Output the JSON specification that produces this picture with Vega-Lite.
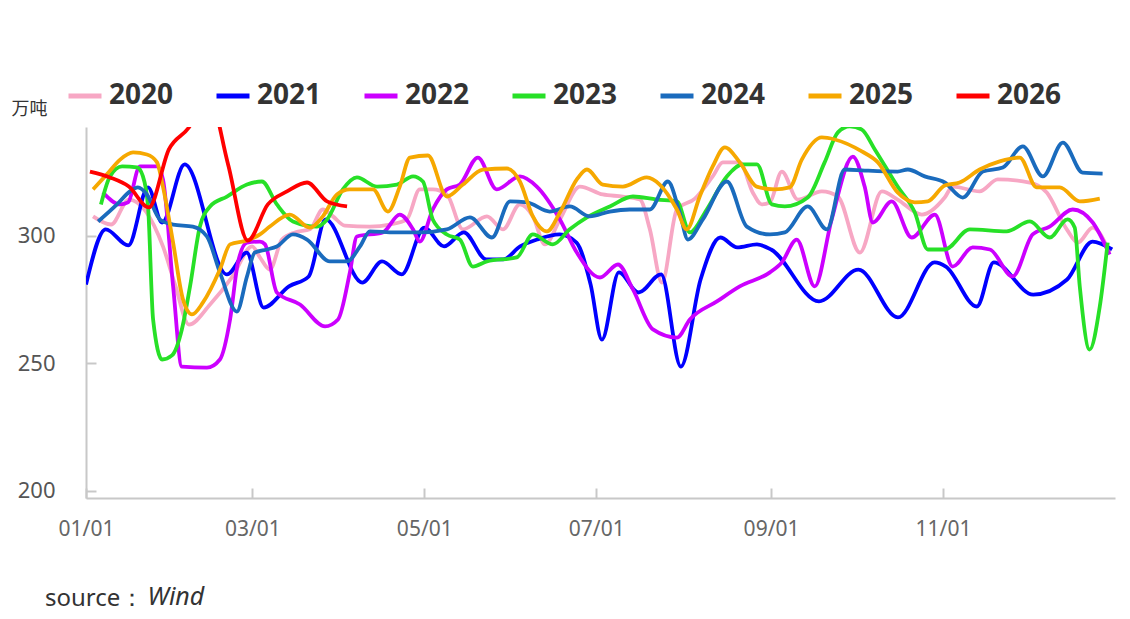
{
"$schema":"https://vega.github.io/schema/vega-lite/v6.json",
"width":1029,"height":371,
"autosize":{"type":"none"},
"padding":{"left":86,"top":127,"right":15,"bottom":121},
"background":"white",
"config":{"view":{"stroke":null},"font":"Noto Sans"},
"title":{"text":"source：","orient":"bottom","anchor":"start","frame":"group","dx":-41,"offset":-22,"fontSize":24,"fontWeight":"normal","color":"#333333","font":"Noto Sans"},
"data":{"values":[
{"year":"2020","day":2.5,"value":307.7},{"year":"2020","day":8.9,"value":304.5},{"year":"2020","day":15.2,"value":314.3},{"year":"2020","day":27.3,"value":295.9},{"year":"2020","day":31.6,"value":280.9},{"year":"2020","day":36.5,"value":265.2},{"year":"2020","day":44,"value":273.1},{"year":"2020","day":52,"value":284.1},{"year":"2020","day":58.9,"value":295.9},{"year":"2020","day":61.7,"value":291.6},{"year":"2020","day":65.2,"value":286.8},{"year":"2020","day":69.5,"value":298.6},{"year":"2020","day":74.1,"value":301.4},{"year":"2020","day":79.4,"value":302.6},{"year":"2020","day":84,"value":310.4},{"year":"2020","day":87.6,"value":307.7},{"year":"2020","day":91.8,"value":304.1},{"year":"2020","day":100.7,"value":303.7},{"year":"2020","day":107.8,"value":304.5},{"year":"2020","day":113.8,"value":306.5},{"year":"2020","day":118.4,"value":318.3},{"year":"2020","day":123,"value":318.3},{"year":"2020","day":128,"value":316.3},{"year":"2020","day":133.7,"value":302.6},{"year":"2020","day":142.2,"value":307.7},{"year":"2020","day":147.9,"value":302.6},{"year":"2020","day":153.9,"value":312.4},{"year":"2020","day":158.5,"value":307.7},{"year":"2020","day":162.8,"value":296.7},{"year":"2020","day":168.1,"value":306.5},{"year":"2020","day":175.2,"value":319.4},{"year":"2020","day":183.3,"value":316.3},{"year":"2020","day":190.4,"value":315.5},{"year":"2020","day":196.5,"value":314.3},{"year":"2020","day":200,"value":302.6},{"year":"2020","day":204.3,"value":281.7},{"year":"2020","day":209.6,"value":310.4},{"year":"2020","day":216,"value":314.7},{"year":"2020","day":222.3,"value":323.4},{"year":"2020","day":225.9,"value":328.9},{"year":"2020","day":231.9,"value":328.9},{"year":"2020","day":236.5,"value":317.1},{"year":"2020","day":239.7,"value":312.4},{"year":"2020","day":242.6,"value":313.2},{"year":"2020","day":246.8,"value":325.3},{"year":"2020","day":252.5,"value":314.3},{"year":"2020","day":261,"value":317.5},{"year":"2020","day":266.7,"value":315.5},{"year":"2020","day":274.5,"value":293.5},{"year":"2020","day":282.3,"value":317.5},{"year":"2020","day":287.9,"value":314.3},{"year":"2020","day":296.5,"value":308.4},{"year":"2020","day":304.6,"value":315.1},{"year":"2020","day":307.4,"value":319.4},{"year":"2020","day":317,"value":317.5},{"year":"2020","day":323.4,"value":322.2},{"year":"2020","day":334.8,"value":321},{"year":"2020","day":340.8,"value":317.1},{"year":"2020","day":347.9,"value":302.6},{"year":"2020","day":351.8,"value":297.4},{"year":"2020","day":357.1,"value":303.3},{"year":"2020","day":363.1,"value":293.5},
{"year":"2021","day":0,"value":280.9},{"year":"2021","day":7,"value":302.6},{"year":"2021","day":15,"value":296.3},{"year":"2021","day":22,"value":319.1},{"year":"2021","day":27,"value":305.3},{"year":"2021","day":35,"value":328.1},{"year":"2021","day":50,"value":284.9},{"year":"2021","day":57,"value":293.5},{"year":"2021","day":63,"value":271.9},{"year":"2021","day":72,"value":280.2},{"year":"2021","day":79,"value":284.1},{"year":"2021","day":85,"value":306.5},{"year":"2021","day":98,"value":281.7},{"year":"2021","day":105,"value":290},{"year":"2021","day":112,"value":284.9},{"year":"2021","day":120,"value":303.3},{"year":"2021","day":127,"value":295.9},{"year":"2021","day":134,"value":301.4},{"year":"2021","day":142,"value":290.8},{"year":"2021","day":148,"value":290.8},{"year":"2021","day":154,"value":295.9},{"year":"2021","day":160,"value":298.6},{"year":"2021","day":168,"value":300.6},{"year":"2021","day":174,"value":297.4},{"year":"2021","day":179,"value":280.9},{"year":"2021","day":183,"value":259.3},{"year":"2021","day":189,"value":285.7},{"year":"2021","day":196,"value":277.8},{"year":"2021","day":204,"value":284.9},{"year":"2021","day":211,"value":248.7},{"year":"2021","day":218,"value":282.9},{"year":"2021","day":225,"value":299.4},{"year":"2021","day":231,"value":295.5},{"year":"2021","day":238,"value":296.7},{"year":"2021","day":243,"value":294.7},{"year":"2021","day":260,"value":274.3},{"year":"2021","day":274,"value":286.8},{"year":"2021","day":288,"value":268},{"year":"2021","day":301,"value":289.6},{"year":"2021","day":305,"value":288},{"year":"2021","day":316,"value":272.3},{"year":"2021","day":322,"value":289.6},{"year":"2021","day":336,"value":277},{"year":"2021","day":348,"value":282.9},{"year":"2021","day":357,"value":297.8},{"year":"2021","day":364,"value":294.7},
{"year":"2022","day":6,"value":317.1},{"year":"2022","day":12.1,"value":312.4},{"year":"2022","day":14.9,"value":313.2},{"year":"2022","day":19.1,"value":327.3},{"year":"2022","day":25.2,"value":327.3},{"year":"2022","day":27.3,"value":322.2},{"year":"2022","day":30.9,"value":280.2},{"year":"2022","day":34,"value":248.7},{"year":"2022","day":42.9,"value":248.3},{"year":"2022","day":47.5,"value":251.5},{"year":"2022","day":51.1,"value":267.2},{"year":"2022","day":53.9,"value":289.6},{"year":"2022","day":57.1,"value":297.4},{"year":"2022","day":61.7,"value":297.8},{"year":"2022","day":63.5,"value":296.7},{"year":"2022","day":67.7,"value":277.8},{"year":"2022","day":75.9,"value":273.1},{"year":"2022","day":84.8,"value":264.5},{"year":"2022","day":89.4,"value":267.2},{"year":"2022","day":93.6,"value":285.7},{"year":"2022","day":96.1,"value":299.8},{"year":"2022","day":105.3,"value":301.4},{"year":"2022","day":111.3,"value":308.4},{"year":"2022","day":116,"value":302.6},{"year":"2022","day":118.4,"value":297.8},{"year":"2022","day":123,"value":310.4},{"year":"2022","day":128,"value":318.3},{"year":"2022","day":132.6,"value":320.2},{"year":"2022","day":139,"value":330.8},{"year":"2022","day":145.7,"value":318.3},{"year":"2022","day":153.9,"value":323.4},{"year":"2022","day":159.9,"value":319.4},{"year":"2022","day":168.1,"value":306.5},{"year":"2022","day":174.1,"value":293.5},{"year":"2022","day":182.3,"value":283.7},{"year":"2022","day":188.7,"value":288.8},{"year":"2022","day":194,"value":279},{"year":"2022","day":201.1,"value":263.3},{"year":"2022","day":209.6,"value":260.1},{"year":"2022","day":214.2,"value":267.2},{"year":"2022","day":223.8,"value":274.3},{"year":"2022","day":231.9,"value":280.2},{"year":"2022","day":242.6,"value":285.7},{"year":"2022","day":246.8,"value":289.6},{"year":"2022","day":252.1,"value":298.6},{"year":"2022","day":258.5,"value":280.2},{"year":"2022","day":264.5,"value":306.5},{"year":"2022","day":272,"value":331.2},{"year":"2022","day":276.2,"value":319.4},{"year":"2022","day":279.1,"value":305.3},{"year":"2022","day":285.8,"value":313.6},{"year":"2022","day":292.9,"value":299.4},{"year":"2022","day":301.1,"value":308.4},{"year":"2022","day":307.4,"value":288},{"year":"2022","day":314.5,"value":295.5},{"year":"2022","day":320.6,"value":294.7},{"year":"2022","day":328.7,"value":284.1},{"year":"2022","day":335.8,"value":300.6},{"year":"2022","day":341.8,"value":303.7},{"year":"2022","day":350,"value":310.4},{"year":"2022","day":357.1,"value":305.3},{"year":"2022","day":363.1,"value":292.7},
{"year":"2023","day":5.3,"value":312.4},{"year":"2023","day":8.5,"value":323.4},{"year":"2023","day":12.8,"value":327.3},{"year":"2023","day":18.1,"value":326.9},{"year":"2023","day":20.2,"value":323.4},{"year":"2023","day":22,"value":311.6},{"year":"2023","day":23.8,"value":267.2},{"year":"2023","day":27,"value":251.5},{"year":"2023","day":30.5,"value":253.1},{"year":"2023","day":34,"value":263.3},{"year":"2023","day":36.9,"value":280.2},{"year":"2023","day":40.4,"value":303.7},{"year":"2023","day":44,"value":311.6},{"year":"2023","day":50,"value":315.5},{"year":"2023","day":57.1,"value":320.2},{"year":"2023","day":62.4,"value":321.4},{"year":"2023","day":67.7,"value":312.4},{"year":"2023","day":73.4,"value":305.7},{"year":"2023","day":81.9,"value":303.7},{"year":"2023","day":85.5,"value":306.5},{"year":"2023","day":91.1,"value":318.3},{"year":"2023","day":96.1,"value":323},{"year":"2023","day":103.2,"value":319.4},{"year":"2023","day":110.3,"value":320.2},{"year":"2023","day":116,"value":323.4},{"year":"2023","day":119.5,"value":321.4},{"year":"2023","day":123,"value":306.5},{"year":"2023","day":128,"value":300.6},{"year":"2023","day":132.6,"value":298.6},{"year":"2023","day":137.2,"value":288},{"year":"2023","day":142.2,"value":290},{"year":"2023","day":152.8,"value":291.6},{"year":"2023","day":158.5,"value":300.6},{"year":"2023","day":165.6,"value":296.7},{"year":"2023","day":171.6,"value":302.6},{"year":"2023","day":177.7,"value":307.3},{"year":"2023","day":185.8,"value":311.6},{"year":"2023","day":194,"value":315.5},{"year":"2023","day":202.5,"value":314.3},{"year":"2023","day":209.6,"value":313.6},{"year":"2023","day":214.2,"value":301.4},{"year":"2023","day":220.2,"value":310.4},{"year":"2023","day":227.3,"value":323.4},{"year":"2023","day":233,"value":328.1},{"year":"2023","day":238,"value":328.1},{"year":"2023","day":243.3,"value":312.4},{"year":"2023","day":247.9,"value":311.6},{"year":"2023","day":256,"value":315.1},{"year":"2023","day":262,"value":328.9},{"year":"2023","day":266.7,"value":340.7},{"year":"2023","day":270.9,"value":343.1},{"year":"2023","day":275.2,"value":341.8},{"year":"2023","day":279.8,"value":334},{"year":"2023","day":287.9,"value":319.4},{"year":"2023","day":294,"value":309.2},{"year":"2023","day":298.6,"value":294.7},{"year":"2023","day":304.6,"value":294.7},{"year":"2023","day":313.5,"value":302.6},{"year":"2023","day":326.6,"value":301.8},{"year":"2023","day":334.8,"value":305.7},{"year":"2023","day":341.8,"value":299.4},{"year":"2023","day":348.2,"value":306.5},{"year":"2023","day":350.7,"value":303.3},{"year":"2023","day":352.5,"value":280.2},{"year":"2023","day":356,"value":255.4},{"year":"2023","day":359.6,"value":272.3},{"year":"2023","day":362.4,"value":297.4},
{"year":"2024","day":4.3,"value":305.7},{"year":"2024","day":11,"value":312.4},{"year":"2024","day":15.6,"value":317.5},{"year":"2024","day":18.4,"value":319.1},{"year":"2024","day":21.6,"value":316.3},{"year":"2024","day":26.2,"value":306.5},{"year":"2024","day":30.9,"value":304.5},{"year":"2024","day":37.9,"value":303.7},{"year":"2024","day":42.9,"value":299.8},{"year":"2024","day":47.5,"value":285.7},{"year":"2024","day":53.5,"value":270.3},{"year":"2024","day":57.1,"value":284.1},{"year":"2024","day":59.9,"value":293.5},{"year":"2024","day":64.2,"value":294.7},{"year":"2024","day":67.7,"value":295.9},{"year":"2024","day":73.4,"value":300.6},{"year":"2024","day":78.4,"value":298.6},{"year":"2024","day":86.5,"value":290},{"year":"2024","day":92.6,"value":290},{"year":"2024","day":97.2,"value":295.9},{"year":"2024","day":100.7,"value":301.8},{"year":"2024","day":109.6,"value":301.4},{"year":"2024","day":118.4,"value":301.4},{"year":"2024","day":128,"value":302.6},{"year":"2024","day":136.2,"value":307.3},{"year":"2024","day":144,"value":299.4},{"year":"2024","day":150.4,"value":313.6},{"year":"2024","day":156.4,"value":313.2},{"year":"2024","day":164.5,"value":309.6},{"year":"2024","day":171.6,"value":311.6},{"year":"2024","day":178.7,"value":307.7},{"year":"2024","day":185.8,"value":309.6},{"year":"2024","day":192.9,"value":310.4},{"year":"2024","day":200,"value":310.4},{"year":"2024","day":206.4,"value":321.4},{"year":"2024","day":210.6,"value":309.2},{"year":"2024","day":213.5,"value":298.6},{"year":"2024","day":218.8,"value":306.5},{"year":"2024","day":227.3,"value":321.4},{"year":"2024","day":234.4,"value":303.7},{"year":"2024","day":242.6,"value":300.6},{"year":"2024","day":247.9,"value":301.4},{"year":"2024","day":256,"value":311.6},{"year":"2024","day":262.8,"value":302.6},{"year":"2024","day":269.1,"value":326.1},{"year":"2024","day":276.2,"value":325.7},{"year":"2024","day":287.9,"value":325.3},{"year":"2024","day":291.5,"value":326.1},{"year":"2024","day":297.5,"value":323.4},{"year":"2024","day":304.6,"value":321},{"year":"2024","day":311,"value":315.1},{"year":"2024","day":318.1,"value":325.3},{"year":"2024","day":325.2,"value":326.9},{"year":"2024","day":332.3,"value":335.2},{"year":"2024","day":339.4,"value":323.4},{"year":"2024","day":346.5,"value":336.7},{"year":"2024","day":353.5,"value":324.9},{"year":"2024","day":360.6,"value":324.5},
{"year":"2025","day":2.5,"value":318.3},{"year":"2025","day":7.4,"value":324.2},{"year":"2025","day":12.1,"value":330},{"year":"2025","day":16.7,"value":332.8},{"year":"2025","day":21.6,"value":332},{"year":"2025","day":25.2,"value":328.9},{"year":"2025","day":27.3,"value":319.4},{"year":"2025","day":30.9,"value":297.4},{"year":"2025","day":34.4,"value":275.1},{"year":"2025","day":37.6,"value":269.2},{"year":"2025","day":41.5,"value":273.9},{"year":"2025","day":47.5,"value":286.8},{"year":"2025","day":51.1,"value":296.7},{"year":"2025","day":57.1,"value":298.2},{"year":"2025","day":61.7,"value":300.6},{"year":"2025","day":65.2,"value":303.7},{"year":"2025","day":72.3,"value":308.4},{"year":"2025","day":79.4,"value":303.3},{"year":"2025","day":84,"value":307.7},{"year":"2025","day":89,"value":316.3},{"year":"2025","day":93.6,"value":318.3},{"year":"2025","day":101.8,"value":318.3},{"year":"2025","day":107.1,"value":309.6},{"year":"2025","day":111.3,"value":319.4},{"year":"2025","day":114.9,"value":330.8},{"year":"2025","day":121.3,"value":331.6},{"year":"2025","day":128,"value":315.5},{"year":"2025","day":133.7,"value":320.2},{"year":"2025","day":140.8,"value":326.1},{"year":"2025","day":149.3,"value":326.5},{"year":"2025","day":153.9,"value":321.4},{"year":"2025","day":158.5,"value":307.7},{"year":"2025","day":163.5,"value":301.8},{"year":"2025","day":168.1,"value":309.2},{"year":"2025","day":174.1,"value":322.2},{"year":"2025","day":177.7,"value":326.1},{"year":"2025","day":183.3,"value":320.2},{"year":"2025","day":190.4,"value":319.4},{"year":"2025","day":198.9,"value":323},{"year":"2025","day":203.5,"value":320.2},{"year":"2025","day":209.6,"value":310.4},{"year":"2025","day":213.1,"value":302.6},{"year":"2025","day":217.7,"value":315.5},{"year":"2025","day":222.3,"value":327.3},{"year":"2025","day":226.6,"value":334.8},{"year":"2025","day":231.9,"value":328.9},{"year":"2025","day":237.9,"value":319.4},{"year":"2025","day":244.3,"value":318.3},{"year":"2025","day":249.6,"value":319.1},{"year":"2025","day":253.9,"value":330},{"year":"2025","day":261,"value":338.7},{"year":"2025","day":265.6,"value":337.9},{"year":"2025","day":275.2,"value":333.2},{"year":"2025","day":280.9,"value":328.9},{"year":"2025","day":287.9,"value":317.1},{"year":"2025","day":294,"value":313.2},{"year":"2025","day":298.6,"value":313.6},{"year":"2025","day":304.6,"value":319.8},{"year":"2025","day":309.9,"value":321},{"year":"2025","day":317,"value":326.1},{"year":"2025","day":324.1,"value":329.3},{"year":"2025","day":331.2,"value":330.8},{"year":"2025","day":337.2,"value":319.1},{"year":"2025","day":345.4,"value":319.1},{"year":"2025","day":352.5,"value":313.6},{"year":"2025","day":359.6,"value":314.7},
{"year":"2026","day":1.4,"value":325.3},{"year":"2026","day":8.5,"value":323},{"year":"2026","day":15.2,"value":319.4},{"year":"2026","day":22.3,"value":311.2},{"year":"2026","day":29.4,"value":334},{"year":"2026","day":36.5,"value":342.6},{"year":"2026","day":43.3,"value":356},{"year":"2026","day":50.4,"value":328.1},{"year":"2026","day":57.4,"value":298.2},{"year":"2026","day":64.5,"value":312.4},{"year":"2026","day":71.3,"value":317.5},{"year":"2026","day":78.4,"value":321},{"year":"2026","day":85.5,"value":313.6},{"year":"2026","day":92.6,"value":311.6}
]},
"mark":{"type":"line","interpolate":"monotone","strokeWidth":3.8,"clip":true},
"encoding":{
"x":{"field":"day","type":"quantitative","scale":{"domain":[0,365],"nice":false,"zero":false},
"axis":{"values":[0,59,120,181,243,304],"labelExpr":"timeFormat(datetime(2023,0,1+datum.value),'%m/%d')","grid":false,"domainColor":"#c8c8c8","domainWidth":2,"tickColor":"#c8c8c8","tickWidth":2,"tickSize":-10,"labelPadding":30,"labelFontSize":21,"labelColor":"#666666","labelFlush":false,"labelOverlap":false,"labelBound":false,"title":"Wind","titleFontStyle":"italic","titleX":61,"titleY":98,"titleAlign":"left","titleBaseline":"middle","titleFontSize":25,"titleFontWeight":"normal","titleColor":"#333333","titleFont":"Noto Sans"}},
"y":{"field":"value","type":"quantitative","scale":{"domain":[197.1,342.8],"nice":false,"zero":false},
"axis":{"values":[200,250,300],"grid":false,"domainColor":"#c8c8c8","domainWidth":2,"tickColor":"#c8c8c8","tickWidth":2,"tickSize":-10,"labelPadding":41,"labelFontSize":22,"labelColor":"#555555","labelFlush":false,"labelOverlap":false,"labelBound":false,"title":"万吨","titleAngle":0,"titleX":-75,"titleY":-18,"titleAlign":"left","titleBaseline":"middle","titleFont":"Noto Sans CJK SC","titleFontSize":18,"titleFontWeight":"normal","titleColor":"#333333"}},
"color":{"field":"year","type":"nominal","scale":{"domain":["2020","2021","2022","2023","2024","2025","2026"],"range":["#f7a7c4","#0000ff","#cc00ff","#27e027","#1a6bbd","#f6a800","#ff0000"]},
"legend":{"orient":"none","legendX":-20,"legendY":-50,"direction":"horizontal","columns":7,"title":null,"symbolType":"stroke","symbolStrokeWidth":5,"symbolSize":1089,"labelFontSize":28,"labelFontWeight":"bold","labelColor":"#333333","labelOffset":5,"columnPadding":32,"labelFont":"Noto Sans"}}
}
}
